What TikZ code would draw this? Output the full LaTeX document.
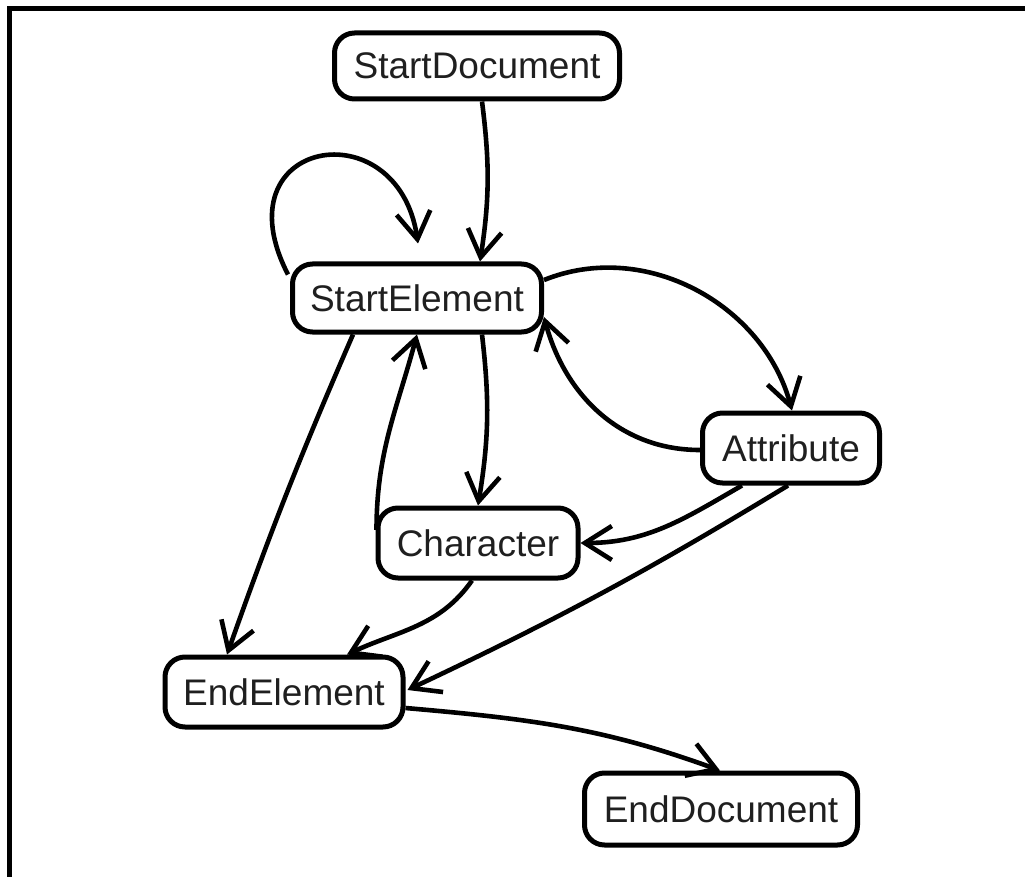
\documentclass[tikz,border=0pt]{standalone}
\usepackage{fontspec}
\setmainfont{Liberation Sans}
\usetikzlibrary{arrows.meta}
\tikzset{
  state/.style={draw, line width=5pt, rounded corners=20pt, inner sep=0pt,
    font=\fontsize{37}{44}\selectfont, text=black!88, fill=white},
  conn/.style={line width=4.6pt, -{Straight Barb[length=27pt,width=34pt,line width=4.6pt]}},
  frame/.style={line width=5pt}
}
\begin{document}
\begin{tikzpicture}[x=1pt,y=1pt]
\useasboundingbox (0,0) rectangle (1025,-877);
\draw[frame] (9.5,-877) -- (9.5,-8.5) -- (1025,-8.5);

\node[state, minimum width=285pt, minimum height=66pt] (sd) at (477,-66) {StartDocument};
\node[state, minimum width=249pt, minimum height=68pt] (se) at (417,-298) {StartElement};
\node[state, minimum width=177pt, minimum height=70pt] (at) at (791,-448) {Attribute};
\node[state, minimum width=200pt, minimum height=70pt] (ch) at (478,-543) {Character};
\node[state, minimum width=238pt, minimum height=70pt] (ee) at (284,-692) {EndElement};
\node[state, minimum width=273pt, minimum height=72pt] (ed) at (721,-809) {EndDocument};

% StartDocument -> StartElement
\draw[conn] ([xshift=5]sd.south) to[bend left=8] ([xshift=63]se.north);
% self loop on StartElement
\draw[conn] ([shift={(-2,-13)}]se.north west) .. controls +(-70,136) and +(-20,136) .. ([shift={(1,18)}]se.north);
% StartElement -> Attribute
\draw[conn] ([yshift=18]se.east) to[out=22, in=105] ([xshift=1]at.north);
% Attribute -> StartElement
\draw[conn] ([yshift=-2]at.west) to[out=180, in=-75] ([yshift=-19]se.east);
% StartElement -> Character
\draw[conn] ([xshift=65]se.south) to[bend left=8] (ch.north);
% Character -> StartElement
\draw[conn] ([shift={(1,13)}]ch.west) to[out=90, in=-105] (se.south);
% Character -> EndElement
\draw[conn] ([xshift=-6]ch.south) to[out=-125, in=25] ([xshift=63]ee.north);
% Attribute -> Character
\draw[conn] ([xshift=-49]at.south) to[out=-150, in=0] (ch.east);
% Attribute -> EndElement
\draw[conn] ([xshift=-3]at.south) to[bend left=3] ([shift={(2,2)}]ee.east);
% StartElement -> EndElement
\draw[conn] ([xshift=-64]se.south) to[bend right=2] ([xshift=-57]ee.north);
% EndElement -> EndDocument
\draw[conn] ([yshift=-16]ee.east) to[out=-5, in=160] ([xshift=-1]ed.north);
\end{tikzpicture}
\end{document}
